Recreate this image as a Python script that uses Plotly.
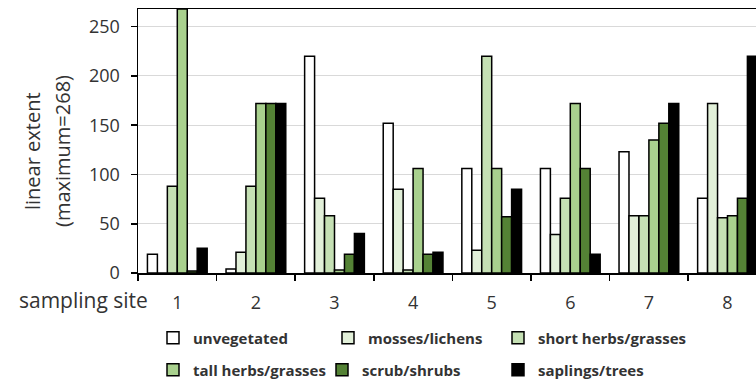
import plotly.graph_objects as go

sites = ["1", "2", "3", "4", "5", "6", "7", "8"]
unvegetated = [19, 4, 220, 152, 106, 106, 123, 76]
mosses_lichens = [0, 21, 76, 85, 23, 39, 58, 172]
short_herbs = [88, 88, 58, 3, 220, 76, 58, 56]
tall_herbs = [268, 172, 3, 106, 106, 172, 135, 58]
scrub_shrubs = [2, 172, 19, 19, 57, 106, 152, 76]
saplings_trees = [25, 172, 40, 21, 85, 19, 172, 220]

series_names = ["unvegetated", "mosses/lichens", "short herbs/grasses",
                "tall herbs/grasses", "scrub/shrubs", "saplings/trees"]
series_values = [unvegetated, mosses_lichens, short_herbs, tall_herbs, scrub_shrubs, saplings_trees]
colors = ["#ffffff", "#e2f0d9", "#c5e0b4", "#a9d18e", "#548235", "#000000"]
legend_ids = ["legend", "legend", "legend", "legend2", "legend2", "legend2"]
legend_widths = [130, 125, 165, 124, 131, 165]

FONT = "Open Sans"
TXT = "#333333"

fig = go.Figure()
for name, vals, col, lg, lw in zip(series_names, series_values, colors, legend_ids, legend_widths):
    fig.add_trace(go.Bar(
        x=sites, y=vals, name=name, legend=lg, legendwidth=lw,
        marker=dict(color=col, line=dict(color="#000000", width=1.5)),
    ))

W, H = 756, 382
L, T, B, R = 138, 9, 109, 0
pw = W - L - R
ph = H - T - B
cat_w = 78.6
LEG_X = 153

leg_common = dict(orientation="h", xref="container", yref="container",
                  x=LEG_X / W, xanchor="left", yanchor="middle",
                  font=dict(family=FONT, size=15, color=TXT, weight="bold"),
                  bgcolor="rgba(0,0,0,0)", itemwidth=30, borderwidth=0)

fig.update_layout(
    template="none",
    width=W, height=H,
    margin=dict(l=L, r=R, t=T, b=B, pad=0, autoexpand=False),
    paper_bgcolor="white", plot_bgcolor="white",
    barmode="group", bargap=0.24, bargroupgap=0,
    font=dict(family=FONT, color=TXT, size=17),
    showlegend=True,
    legend=dict(leg_common, y=1 - 338 / H),
    legend2=dict(leg_common, y=1 - 370 / H),
)

fig.update_xaxes(
    type="category", automargin=False,
    range=[-0.5, -0.5 + pw / cat_w],
    showline=True, linecolor="#000000", linewidth=1.5, mirror=True,
    ticks="outside", tickson="boundaries", ticklen=6, tickwidth=1.5, tickcolor="#000000",
    showgrid=False, zeroline=False,
    tickfont=dict(family=FONT, size=18, color=TXT),
    ticklabelstandoff=13,
)
fig.update_yaxes(
    automargin=False,
    range=[0, 268],
    tickvals=[0, 50, 100, 150, 200, 250],
    showline=True, linecolor="#000000", linewidth=1.5,
    ticks="outside", ticklen=6, tickwidth=1.5, tickcolor="#000000",
    showgrid=True, gridcolor="#d9d9d9", gridwidth=1,
    zeroline=False,
    tickfont=dict(family=FONT, size=18, color=TXT),
    ticklabelstandoff=7,
)

fig.add_annotation(text="linear extent", textangle=-90, showarrow=False,
                   xref="paper", yref="paper", x=(32 - L) / pw, y=(H - B - 151) / ph,
                   xanchor="center", yanchor="middle",
                   font=dict(family=FONT, size=20, color=TXT))
fig.add_annotation(text="(maximum=268)", textangle=-90, showarrow=False,
                   xref="paper", yref="paper", x=(62 - L) / pw, y=(H - B - 151) / ph,
                   xanchor="center", yanchor="middle",
                   font=dict(family=FONT, size=20, color=TXT))
fig.add_annotation(text="sampling site", showarrow=False,
                   xref="paper", yref="paper", x=(83 - L) / pw, y=-(300 - (H - B)) / ph,
                   xanchor="center", yanchor="middle",
                   font=dict(family=FONT, size=21, color=TXT))

fig.write_html(
    "out.html",
    config={"displayModeBar": False, "staticPlot": True},
    post_script="document.body.style.margin='0';document.body.style.overflow='hidden';",
)
